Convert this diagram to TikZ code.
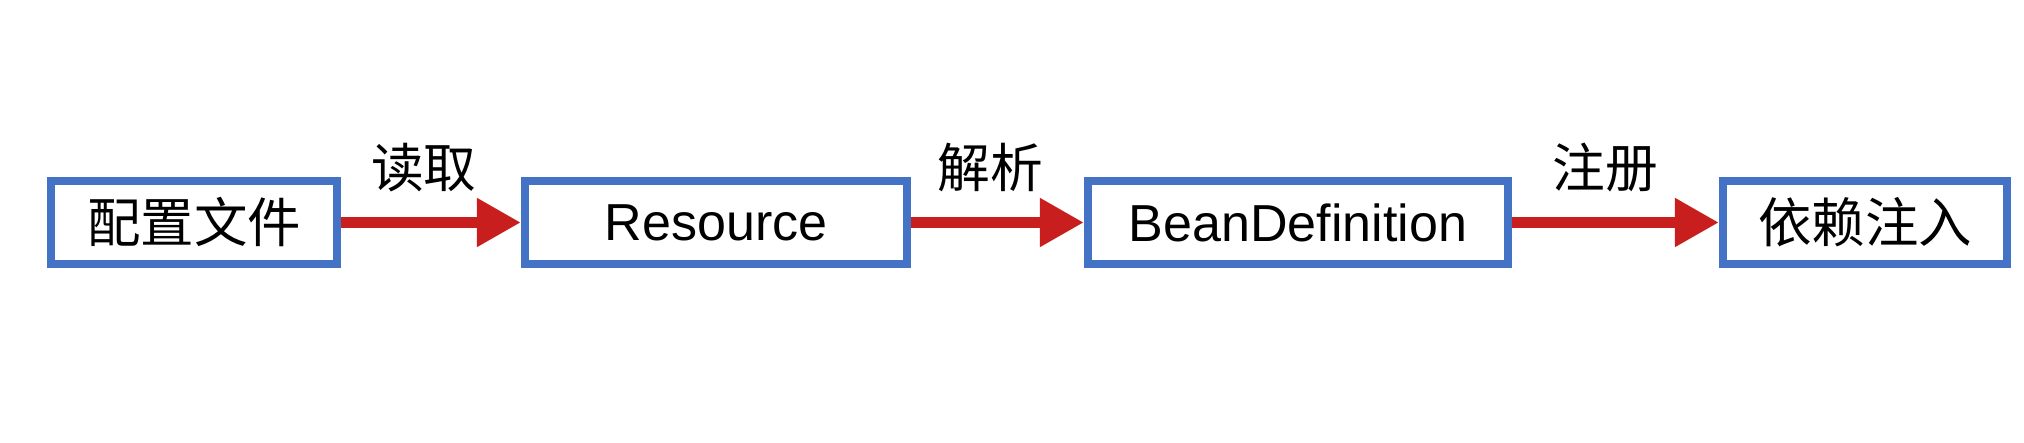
\documentclass[tikz,border=0pt]{standalone}
\usepackage{fontspec}
\setmainfont{Liberation Sans}
\newfontfamily\cjk{Noto Sans CJK SC}
\usetikzlibrary{arrows.meta}
\definecolor{boxblue}{RGB}{68,114,196}
\definecolor{arrred}{RGB}{200,30,30}
\tikzset{
  flowbox/.style={draw=boxblue, line width=0.08cm, fill=white, inner sep=0pt,
    minimum height=0.83cm, font=\fontsize{14.8pt}{17pt}\selectfont},
  cjkbox/.style={flowbox, font=\cjk\fontsize{15.2pt}{17pt}\selectfont},
  flowarrow/.style={draw=arrred, line width=0.11cm,
    -{Triangle[length=0.44cm,width=0.46cm]}},
  flowlabel/.style={font=\cjk\fontsize{15pt}{17pt}\selectfont, inner sep=0pt,
    anchor=base, yshift=0.35cm, text=black}
}
\begin{document}
\begin{tikzpicture}[x=0.01cm, y=-0.01cm]
  \useasboundingbox (0,0) rectangle (2024,443);
  \fill[white] (0,0) rectangle (2024,443);
  \node[cjkbox, minimum width=2.86cm] (cfg) at (194,222.5) {配置文件};
  \node[flowbox, minimum width=3.82cm] (res) at (716,222.5) {Resource};
  \node[flowbox, minimum width=4.20cm] (bd) at (1298,222.5) {BeanDefinition};
  \node[cjkbox, minimum width=2.84cm] (di) at (1865,222.5) {依赖注入};
  \draw[flowarrow] (cfg.east) -- node[flowlabel, pos=0.46] {读取} (res.west);
  \draw[flowarrow] (res.east) -- node[flowlabel, pos=0.46] {解析} (bd.west);
  \draw[flowarrow] (bd.east) -- node[flowlabel, pos=0.45] {注册} (di.west);
\end{tikzpicture}
\end{document}
